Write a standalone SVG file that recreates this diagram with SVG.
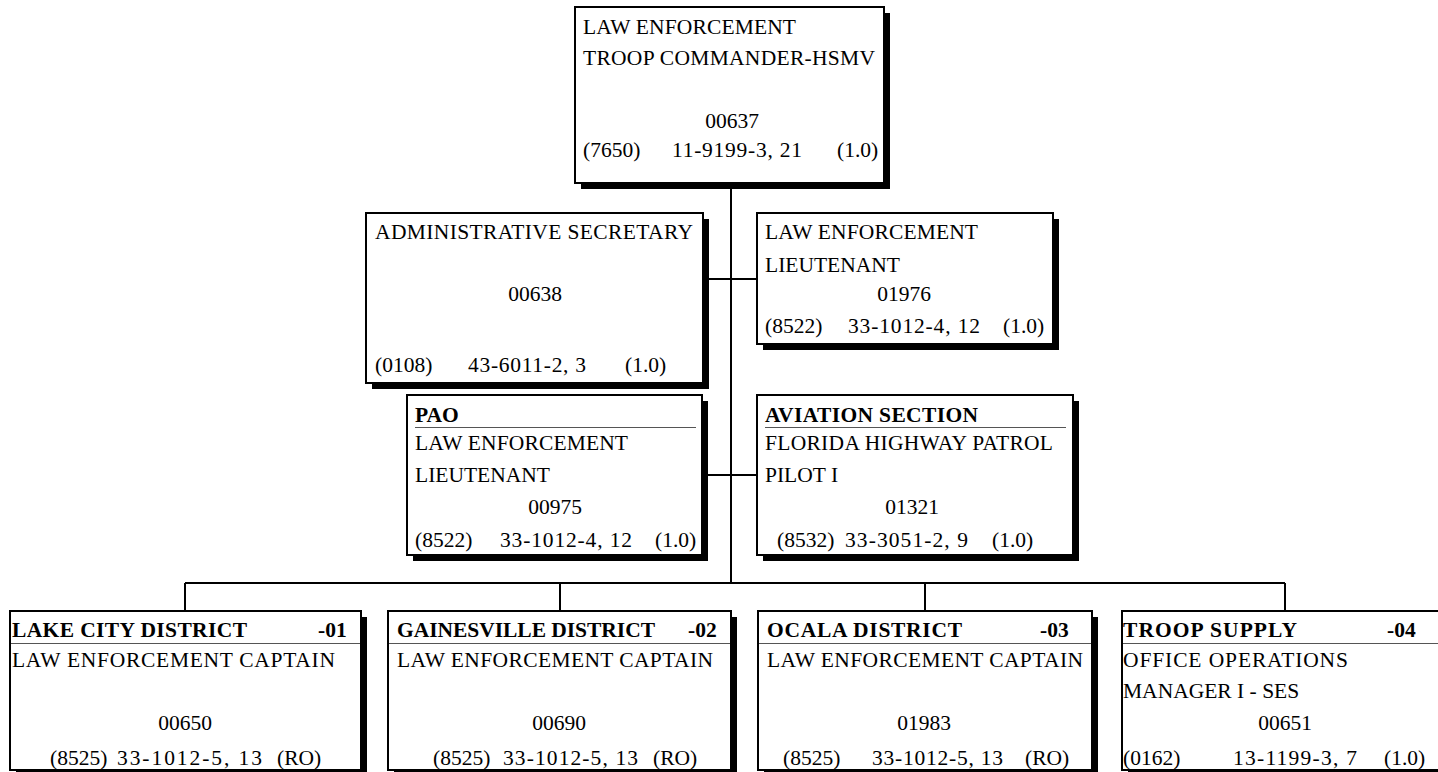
<svg xmlns="http://www.w3.org/2000/svg" width="1438" height="772" viewBox="0 0 1438 772">
  <style>
    .shadow { fill: #000; }
    .box { fill: #fff; stroke: #000; stroke-width: 2; }
    .sep { stroke: #555; stroke-width: 1; }
    .conn { stroke: #000; stroke-width: 2; fill: none; }
    text { font-family: "Liberation Serif", "Times New Roman", serif; font-size: 21.5px; fill: #000; }
    .b { font-weight: bold; }
    .c { text-anchor: middle; }
  </style>
  <rect width="1438" height="772" fill="#fff"/>

  <!-- reporting lines -->
  <g id="connectors">
    <path class="conn" d="M731,183 V583"/>
    <path class="conn" d="M703,279 H757"/>
    <path class="conn" d="M702,475 H757"/>
    <path class="conn" d="M185,583 H1285"/>
    <path class="conn" d="M185,583 V611 M560,583 V611 M925,583 V611 M1285,583 V611"/>
  </g>

  <!-- troop commander -->
  <g id="n00637">
    <rect class="shadow" x="581" y="13" width="309" height="176"/>
    <rect class="box" x="575" y="7" width="309" height="176"/>
    <text x="583" y="34" textLength="213">LAW ENFORCEMENT</text>
    <text x="583" y="65" textLength="292">TROOP COMMANDER-HSMV</text>
    <text class="c" x="732" y="128">00637</text>
    <text x="583" y="157">(7650)</text>
    <text x="672" y="157" textLength="130">11-9199-3, 21</text>
    <text x="837" y="157">(1.0)</text>
  </g>

  <g id="n00638">
    <rect class="shadow" x="372" y="219" width="337" height="170"/>
    <rect class="box" x="366" y="213" width="337" height="170"/>
    <text x="375" y="239" textLength="318">ADMINISTRATIVE SECRETARY</text>
    <text class="c" x="535" y="301">00638</text>
    <text x="375" y="372">(0108)</text>
    <text x="468" y="372" textLength="118">43-6011-2, 3</text>
    <text x="625" y="372">(1.0)</text>
  </g>

  <g id="n01976">
    <rect class="shadow" x="763" y="219" width="296" height="131"/>
    <rect class="box" x="757" y="213" width="296" height="131"/>
    <text x="765" y="239" textLength="213">LAW ENFORCEMENT</text>
    <text x="765" y="272">LIEUTENANT</text>
    <text class="c" x="904" y="301">01976</text>
    <text x="765" y="333">(8522)</text>
    <text x="848" y="333" textLength="132">33-1012-4, 12</text>
    <text x="1003" y="333">(1.0)</text>
  </g>

  <g id="n00975">
    <rect class="shadow" x="413" y="401" width="295" height="160"/>
    <rect class="box" x="407" y="395" width="295" height="160"/>
    <text class="b" x="415" y="422">PAO</text>
    <line class="sep" x1="415" y1="427.5" x2="696" y2="427.5"/>
    <text x="415" y="450" textLength="213">LAW ENFORCEMENT</text>
    <text x="415" y="482">LIEUTENANT</text>
    <text class="c" x="555" y="514">00975</text>
    <text x="415" y="547">(8522)</text>
    <text x="500" y="547" textLength="132">33-1012-4, 12</text>
    <text x="655" y="547">(1.0)</text>
  </g>

  <g id="n01321">
    <rect class="shadow" x="763" y="401" width="316" height="160"/>
    <rect class="box" x="757" y="395" width="316" height="160"/>
    <text class="b" x="765" y="422" textLength="213">AVIATION SECTION</text>
    <line class="sep" x1="765" y1="427.5" x2="1066" y2="427.5"/>
    <text x="765" y="450" textLength="288">FLORIDA HIGHWAY PATROL</text>
    <text x="765" y="482">PILOT I</text>
    <text class="c" x="912" y="514">01321</text>
    <text x="777" y="547">(8532)</text>
    <text x="845" y="547" textLength="123">33-3051-2, 9</text>
    <text x="992" y="547">(1.0)</text>
  </g>

  <g id="n00650">
    <rect class="shadow" x="16" y="617" width="351" height="159"/>
    <rect class="box" x="10" y="611" width="351" height="159"/>
    <text class="b" x="12" y="637" textLength="235">LAKE CITY DISTRICT</text>
    <text class="b" x="318" y="637">-01</text>
    <line class="sep" x1="11" y1="643.5" x2="360" y2="643.5"/>
    <text x="12" y="667" textLength="323">LAW ENFORCEMENT CAPTAIN</text>
    <text class="c" x="185" y="730">00650</text>
    <text x="50" y="765">(8525)</text>
    <text x="117" y="765" textLength="145">33-1012-5, 13</text>
    <text x="277" y="765">(RO)</text>
  </g>

  <g id="n00690">
    <rect class="shadow" x="394" y="617" width="343" height="159"/>
    <rect class="box" x="388" y="611" width="343" height="159"/>
    <text class="b" x="397" y="637" textLength="258">GAINESVILLE DISTRICT</text>
    <text class="b" x="688" y="637">-02</text>
    <line class="sep" x1="389" y1="643.5" x2="730" y2="643.5"/>
    <text x="397" y="667" textLength="316">LAW ENFORCEMENT CAPTAIN</text>
    <text class="c" x="559" y="730">00690</text>
    <text x="433" y="765">(8525)</text>
    <text x="503" y="765" textLength="135">33-1012-5, 13</text>
    <text x="653" y="765">(RO)</text>
  </g>

  <g id="n01983">
    <rect class="shadow" x="764" y="617" width="334" height="159"/>
    <rect class="box" x="758" y="611" width="334" height="159"/>
    <text class="b" x="767" y="637" textLength="195">OCALA DISTRICT</text>
    <text class="b" x="1040" y="637">-03</text>
    <line class="sep" x1="759" y1="643.5" x2="1091" y2="643.5"/>
    <text x="767" y="667" textLength="316">LAW ENFORCEMENT CAPTAIN</text>
    <text class="c" x="924" y="730">01983</text>
    <text x="783" y="765">(8525)</text>
    <text x="872" y="765" textLength="131">33-1012-5, 13</text>
    <text x="1025" y="765">(RO)</text>
  </g>

  <g id="n00651">
    <rect class="shadow" x="1128" y="617" width="330" height="159"/>
    <rect class="box" x="1122" y="611" width="330" height="159"/>
    <text class="b" x="1123" y="637" textLength="174">TROOP SUPPLY</text>
    <text class="b" x="1387" y="637">-04</text>
    <line class="sep" x1="1123" y1="643.5" x2="1438" y2="643.5"/>
    <text x="1123" y="667" textLength="225">OFFICE OPERATIONS</text>
    <text x="1123" y="698">MANAGER I - SES</text>
    <text class="c" x="1285" y="730">00651</text>
    <text x="1123" y="765">(0162)</text>
    <text x="1233" y="765" textLength="124">13-1199-3, 7</text>
    <text x="1384" y="765">(1.0)</text>
  </g>
</svg>
